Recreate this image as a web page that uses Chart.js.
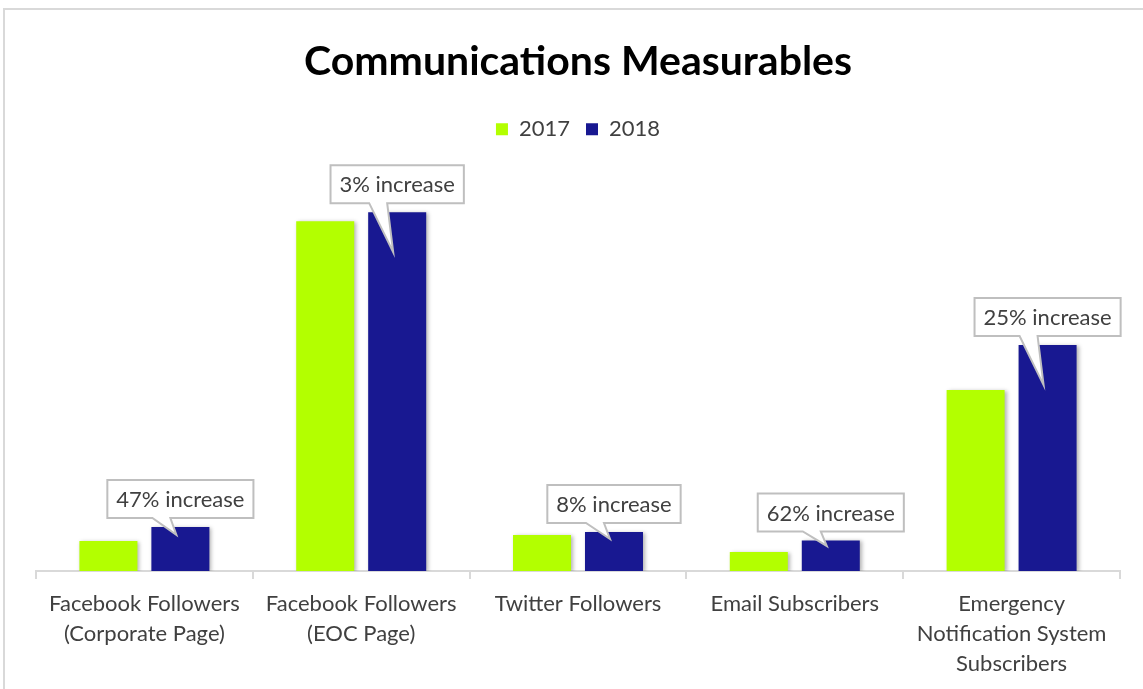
<!DOCTYPE html>
<html>
<head>
<meta charset="utf-8">
<script src="https://cdn.jsdelivr.net/npm/chart.js@4"></script>
<style>
  html, body { margin: 0; padding: 0; background: #fff; }
  #wrap { position: relative; width: 1143px; height: 689px; }
</style>
</head>
<body>
<div id="wrap"><canvas id="myChart"></canvas></div>
<script>
const categories = [
    ['Facebook Followers', '(Corporate Page)'],
    ['Facebook Followers', '(EOC Page)'],
    'Twitter Followers',
    'Email Subscribers',
    ['Emergency', 'Notification System', 'Subscribers']
];
const values2017 = [3000, 35000, 3600, 1900, 18100];
const values2018 = [4400, 35900, 3900, 3050, 22600];
const increases = ['47% increase', '3% increase', '8% increase', '62% increase', '25% increase'];

const FONT = "Lato, 'Open Sans', sans-serif";

// gray frame around the whole chart
const framePlugin = {
    id: 'frame',
    beforeDraw(chart) {
        const ctx = chart.ctx;
        ctx.save();
        ctx.strokeStyle = '#d9d9d9';
        ctx.lineWidth = 2;
        ctx.strokeRect(4, 9, 1200, 800);
        ctx.restore();
    }
};

// soft shadow on the bars
const shadowPlugin = {
    id: 'barShadow',
    beforeDatasetsDraw(chart) {
        const ctx = chart.ctx;
        ctx.save();
        ctx.shadowColor = 'rgba(0,0,0,0.3)';
        ctx.shadowBlur = 4;
        ctx.shadowOffsetX = 2;
        ctx.shadowOffsetY = 1;
    },
    afterDatasetsDraw(chart) {
        chart.ctx.restore();
    }
};

// speech-bubble callouts above the 2018 bars
const calloutPlugin = {
    id: 'callouts',
    afterDatasetsDraw(chart) {
        const ctx = chart.ctx;
        const meta = chart.getDatasetMeta(1);
        ctx.save();
        ctx.font = '22px ' + FONT;
        meta.data.forEach((bar, i) => {
            const txt = increases[i];
            const w = ctx.measureText(txt).width + 18;
            const h = 38;
            const cx = bar.x;
            const bottom = bar.y - 9;
            const top = bottom - h;
            const left = cx - w / 2;
            const right = cx + w / 2;
            const tipY = bar.y + Math.min(40, (bar.base - bar.y) * 0.18);
            ctx.beginPath();
            ctx.moveTo(left, top);
            ctx.lineTo(right, top);
            ctx.lineTo(right, bottom);
            ctx.lineTo(cx - 10, bottom);
            ctx.lineTo(cx - 4, tipY);
            ctx.lineTo(cx - 28, bottom);
            ctx.lineTo(left, bottom);
            ctx.closePath();
            ctx.fillStyle = '#ffffff';
            ctx.fill();
            ctx.strokeStyle = '#bfbfbf';
            ctx.lineWidth = 2;
            ctx.stroke();
            ctx.fillStyle = '#404040';
            ctx.textAlign = 'center';
            ctx.textBaseline = 'middle';
            ctx.fillText(txt, cx, top + h / 2 + 1);
        });
        ctx.restore();
    }
};

const ctx = document.getElementById('myChart').getContext('2d');
const myChart = new Chart(ctx, {
    type: 'bar',
    data: {
        labels: categories,
        datasets: [{
            label: '2017',
            data: values2017,
            backgroundColor: '#b3ff00',
            categoryPercentage: 0.664,
            barPercentage: 0.806
        }, {
            label: '2018',
            data: values2018,
            backgroundColor: '#181891',
            categoryPercentage: 0.664,
            barPercentage: 0.806
        }]
    },
    options: {
        responsive: true,
        maintainAspectRatio: false,
        animation: false,
        layout: { padding: { left: 36, right: 23, top: 26, bottom: 0 } },
        plugins: {
            title: {
                display: true,
                text: 'Communications Measurables',
                color: '#000000',
                font: { family: FONT, size: 41, weight: 'bold' },
                padding: { top: 11, bottom: 16 }
            },
            legend: {
                display: true,
                labels: {
                    color: '#404040',
                    font: { family: FONT, size: 22 },
                    boxWidth: 12,
                    boxHeight: 12,
                    padding: 16
                }
            },
            tooltip: { enabled: false }
        },
        scales: {
            x: {
                grid: {
                    display: true,
                    drawOnChartArea: false,
                    drawTicks: true,
                    tickLength: 8,
                    color: '#d9d9d9',
                    lineWidth: 2
                },
                border: { display: true, color: '#d9d9d9', width: 2 },
                ticks: {
                    color: '#404040',
                    font: { family: FONT, size: 22, lineHeight: 1.364 },
                    padding: 10,
                    maxRotation: 0,
                    autoSkip: false
                }
            },
            y: {
                display: false,
                min: 0,
                max: 42100
            }
        }
    },
    plugins: [framePlugin, shadowPlugin, calloutPlugin]
});
</script>
</body>
</html>
